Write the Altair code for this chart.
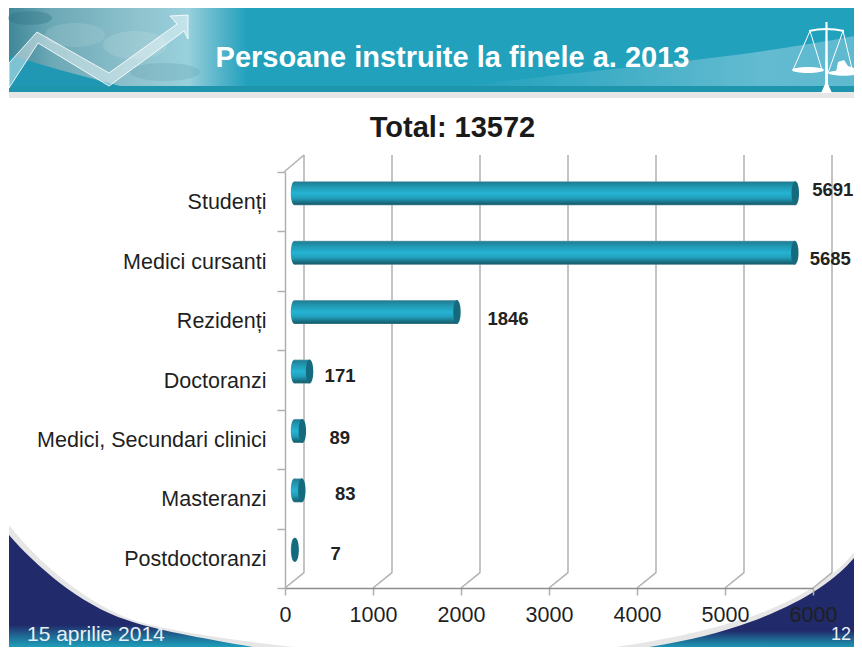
import altair as alt
import pandas as pd

categories = ["Studenți", "Medici cursanti", "Rezidenți", "Doctoranzi",
              "Medici, Secundari clinici", "Masteranzi", "Postdoctoranzi"]
values = [5691, 5685, 1846, 171, 89, 83, 7]
x_ticks = [0, 1000, 2000, 3000, 4000, 5000, 6000]
label_nudges = [(47, -11.5), (45, -2.5), (60.6, -1.5), (40, -4.5), (47, -1.5), (53, -4.5), (50, -4.5)]

FONT = "Liberation Sans"
GRID = "#b0b0b0"
df = pd.DataFrame({"cat": categories, "val": values})
ticks_df = pd.DataFrame({"t": x_ticks})
one = pd.DataFrame({"a": [0]})


def grad(stops, horizontal=False):
    return {"gradient": "linear", "x1": 0, "y1": 0,
            "x2": 1 if horizontal else 0, "y2": 0 if horizontal else 1,
            "stops": [{"offset": o, "color": c} for o, c in stops]}


def decor(path, fill, **kw):
    # SVG path in page pixels: size 4 gives a unit scale, anchored at the page corner.
    return alt.Chart(one).mark_point(shape=path, size=4, filled=True, fill=fill, opacity=1, **kw).encode(
        x=alt.value(-285), y=alt.value(-172))


def text(s, px, py, **kw):
    return alt.Chart(one).mark_text(text=s, font=FONT, **kw).encode(
        x=alt.value(px - 285), y=alt.value(py - 172))


def ell(cx, cy, rx, ry):
    return f"M{cx-rx},{cy} A{rx},{ry} 0 1,1 {cx+rx},{cy} A{rx},{ry} 0 1,1 {cx-rx},{cy} Z"


swoosh_stops = [(0, "#212a6b"), (0.75, "#212a6b"), (0.85, "#1f6f98"), (0.93, "#1e9cb8"), (1, "#1e9cb8")]
layers = [
    # header
    decor("M9,8 L854,8 L854,86 L9,86 Z", "#22a1bd"),
    decor("M9,8 L265,8 L265,86 L9,86 Z",
          grad([(0, "#3f8799"), (0.16, "#6ba8b5"), (0.5, "#8fc3ce"), (0.7, "#98d0dc"), (0.8, "#62b9cd"), (0.93, "#22a1bd"), (1, "#22a1bd")], True)),
    decor("M9,55 L60,70 L120,86 L9,86 Z", "#2098b3"),
    decor(ell(75, 35, 30, 12), "#c4dde2", fillOpacity=0.2),
    decor(ell(135, 45, 32, 14), "#d6e8eb", fillOpacity=0.18),
    decor(ell(30, 18, 22, 7), "#2e6f80", fillOpacity=0.35),
    decor(ell(165, 72, 35, 9), "#5c98a6", fillOpacity=0.25),
    decor("M470,86 C560,72 720,62 854,36 L854,86 Z", grad([(0, "#22a1bd"), (0.75, "#62bbd0"), (1, "#5fb9cf")], True)),
    decor("M9,86 L854,86 L854,92 L9,92 Z", "#1f94ad"),
    decor("M9,92 L854,92 L854,98 L9,98 Z", "#e6e6e6"),
    # rising arrow
    decor("M9,63 L37,32 L109,73 L177,24 L170,16 L188,15 L188,39 L184,31 L109,86 L38,43 L9,88 Z",
          "#ffffff", fillOpacity=0.42, stroke="#ffffff", strokeOpacity=0.85, strokeWidth=1),
    # scales icon
    decor("M825.5,22 L827.5,22 L828,84 L832,93 L821,93 L825,84 Z", "#ffffff"),
    decor("M809,30 Q826,26 844,30 L844,32 Q826,28 809,32 Z", "#ffffff"),
    decor("M810,31 L793,70 M810,31 L822,70 M843,31 L828,73 M843,31 L853,73", "none", stroke="#ffffff", strokeWidth=1),
    decor(ell(808, 70, 16, 3), "#ffffff"),
    decor("M828,73 A16,3 0 0,1 854,71 L854,75 A16,3 0 0,1 828,73 Z", "#ffffff"),
    decor("M836,72 L838,62 L844,60 L848,66 L854,68 L854,72 Z", "#ffffff"),
    # bottom swooshes
    decor("M9,525 C40,565 90,605 133,620 C170,632 260,645 377,655 L9,655 Z", "#e6e6e6"),
    decor("M9,535 C35,565 80,605 127,620 C160,632 230,643 300,655 L9,655 Z", grad(swoosh_stops)),
    decor("M854,552 C840,572 800,600 750,617 C700,633 640,647 540,655 L854,655 Z", "#e6e6e6"),
    decor("M854,558 C835,580 805,602 750,622 C710,637 660,647 590,655 L854,655 Z", grad(swoosh_stops)),
]

x_scale = alt.Scale(domain=[0, 6000], nice=False)
y_scale = alt.Scale(domain=categories)
x_axis = alt.Axis(values=x_ticks, format="d", grid=False, zindex=1, domainColor="#8c8c8c", domainWidth=1.5,
                  tickColor=GRID, tickWidth=1.5, tickSize=7, labelFont=FONT, labelFontSize=21.5,
                  labelColor="#1f1f1f", labelPadding=9, labelOverlap=False, labelFlush=False, title=None)
y_axis = alt.Axis(tickBand="extent", grid=False, zindex=1, domainColor=GRID, domainWidth=1.5,
                  tickColor=GRID, tickWidth=1.5, tickSize=8, labelFont=FONT, labelFontSize=21.5,
                  labelColor="#1f1f1f", labelPadding=11, labelLimit=400, labelOffset=1, title=None)
x_val = alt.X("val:Q", scale=x_scale, axis=x_axis)
y_cat = alt.Y("cat:N", scale=y_scale, sort=None, axis=y_axis)

# 3D chart walls
layers += [
    alt.Chart(ticks_df).mark_rule(color=GRID, strokeWidth=1.5, xOffset=19).encode(
        x=alt.X("t:Q", scale=x_scale, axis=x_axis), y=alt.value(-17), y2=alt.value(400.7)),
    alt.Chart(ticks_df).mark_rule(color=GRID, strokeWidth=1.5, x2Offset=19).encode(
        x=alt.X("t:Q", scale=x_scale, axis=x_axis), x2="t:Q", y=alt.value(416), y2=alt.value(400.7)),
    alt.Chart(one).mark_rule(color=GRID, strokeWidth=1.5).encode(
        x=alt.value(-1), x2=alt.value(19), y=alt.value(0), y2=alt.value(-17)),
]

BAR_DX, BAR_DY, BAR_H = 9.5, -8.5, 24
cap_path = "M-0.31,0 A0.31,1 0 1,1 0.31,0 A0.31,1 0 1,1 -0.31,0 Z"
body_grad = grad([(0, "#8fb0b8"), (0.05, "#1f7f95"), (0.25, "#229ab5"), (0.5, "#25b3d3"), (0.7, "#21a0bd"), (0.95, "#165f6f"), (1, "#4f8794")])

layers += [
    alt.Chart(df).mark_point(shape=cap_path, size=BAR_H ** 2, filled=True, fill=body_grad, opacity=1,
                             xOffset=BAR_DX, yOffset=BAR_DY).encode(x=alt.datum(0, scale=x_scale, axis=x_axis), y=y_cat),
    alt.Chart(df).mark_bar(size=BAR_H, fill=body_grad, xOffset=BAR_DX, x2Offset=BAR_DX, yOffset=BAR_DY).encode(
        x=x_val, x2=alt.datum(0), y=y_cat),
    alt.Chart(df).mark_point(shape=cap_path, size=BAR_H ** 2, filled=True, fill="#156b7d", opacity=1,
                             xOffset=BAR_DX, yOffset=BAR_DY).encode(x=x_val, y=y_cat),
]

for (cat, val), (dx, dy) in zip(zip(categories, values), label_nudges):
    layers.append(
        alt.Chart(pd.DataFrame({"cat": [cat], "val": [val]})).mark_text(
            font=FONT, fontSize=18.5, fontWeight="bold", color="#222222", dx=dx, dy=dy, baseline="middle", align="center"
        ).encode(x=x_val, y=y_cat, text="val:Q"))

layers += [
    text("Persoane instruite la finele a. 2013", 452.5, 58, fontSize=29, fontWeight="bold", color="#ffffff",
         align="center", baseline="middle"),
    text("Total: 13572", 452.5, 128, fontSize=29, fontWeight="bold", color="#1a1a1a", align="center", baseline="middle"),
    text("15 aprilie 2014", 27, 635, fontSize=21, color="#e8f0f5", align="left", baseline="middle"),
    text("12", 851, 635, fontSize=18, color="#e8f0f5", align="right", baseline="middle"),
]

chart = alt.layer(*layers).properties(
    width=528, height=416,
    padding={"left": 277, "top": 164, "right": 41, "bottom": 59},
    autosize=alt.AutoSizeParams(type="none"),
    background="#ffffff",
).configure_view(stroke=None)

chart.save("out.html", embed_options={"renderer": "svg", "actions": False})
